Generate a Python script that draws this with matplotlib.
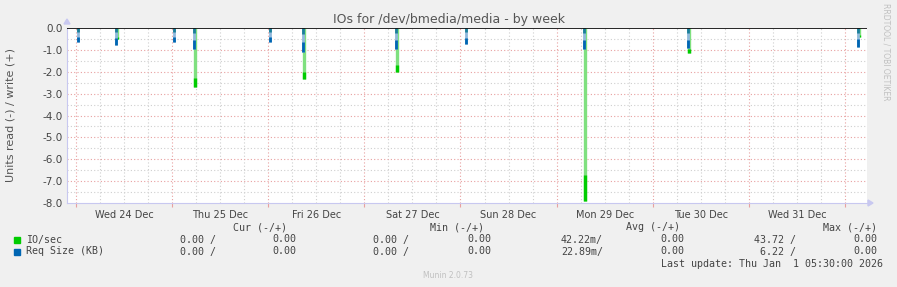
import numpy as np
import matplotlib
matplotlib.use("Agg")
from matplotlib import pyplot as plt

# spike times in days since Wed 23 Dec 00:00, values read side (negative)
spike_days = [0.031, 0.427, 1.030, 1.238, 2.029, 2.372, 3.339, 4.068, 5.295, 6.377, 8.146]
io_sec = [0.0, -0.5, 0.0, -2.7, 0.0, -2.35, -2.0, 0.0, -7.9, -1.15, -0.4]
req_size = [-0.65, -0.78, -0.65, -0.95, -0.65, -1.1, -0.95, -0.75, -0.95, -0.9, -0.85]

day_labels = ["Wed 24 Dec", "Thu 25 Dec", "Fri 26 Dec", "Sat 27 Dec",
              "Sun 28 Dec", "Mon 29 Dec", "Tue 30 Dec", "Wed 31 Dec"]
y_ticks = [0.0, -1.0, -2.0, -3.0, -4.0, -5.0, -6.0, -7.0, -8.0]

legend_names = ["IO/sec", "Req Size (KB)"]
legend_colors = ["#00cc00", "#0066b3"]
cur_vals = [("0.00 /", "0.00"), ("0.00 /", "0.00")]
min_vals = [("0.00 /", "0.00"), ("0.00 /", "0.00")]
avg_vals = [("42.22m/", "0.00"), ("22.89m/", "0.00")]
max_vals = [("43.72 /", "0.00"), ("6.22 /", "0.00")]

W, H = 897, 287
fig = plt.figure(figsize=(W / 100, H / 100), dpi=100, facecolor="#f0f0f0")


def px(x, y):
    return x / W, 1 - y / H


ax = fig.add_axes([67 / W, 1 - 203 / H, 800 / W, 175 / H], facecolor="white")
ax.set_xlim(-0.0937, 8.229)
ax.set_ylim(-8.0, 0.0)

# grid: minor grey every 6h / 0.5, major red at midnight / 1.0
for d in np.arange(0, 8.3, 0.25):
    major = abs(d - round(d)) < 1e-6
    ax.axvline(d, color="#e8a0a0" if major else "#cfcfcf", lw=0.8,
               ls=(0, (1, 2)), zorder=1)
for v in np.arange(-7.5, 0, 0.5):
    major = abs(v - round(v)) < 1e-6
    ax.axhline(v, color="#e8a0a0" if major else "#cfcfcf", lw=0.8,
               ls=(0, (1, 2)), zorder=1)

# spikes: light body with a darker tip, like munin's gradient look
io = np.array(io_sec)
rq = np.array(req_size)
t = np.array(spike_days)
ax.vlines(t, 0, io, color="#7fe07f", lw=2.4, zorder=3)
ax.vlines(t, io * 0.85, io, color=legend_colors[0], lw=2.4, zorder=3)
ax.vlines(t - 0.008, 0, rq, color="#8fb8dc", lw=2.0, zorder=4)
ax.vlines(t - 0.008, rq * 0.6, rq, color=legend_colors[1], lw=2.0, zorder=4)
ax.vlines(t - 0.008, 0, rq * 0.25, color="#1a7f99", lw=2.0, zorder=4)
ax.axhline(0, color="black", lw=1.2, zorder=5)

for s in ["top", "right"]:
    ax.spines[s].set_visible(False)
for s in ["left", "bottom"]:
    ax.spines[s].set_color("#c8c8f0")
    ax.spines[s].set_linewidth(0.8)

ax.set_yticks(y_ticks)
ax.set_yticklabels(["%.1f" % v for v in y_ticks])
ax.set_xticks(np.arange(0, 9))
ax.set_xticklabels([])
ax.set_xticks(np.arange(0.5, 8, 1), minor=True)
ax.set_xticklabels(day_labels, minor=True)
ax.tick_params(axis="x", which="major", length=3, color="#e8a0a0", direction="out")
ax.tick_params(axis="x", which="minor", length=0, labelsize=7, colors="#444444", pad=5)
ax.tick_params(axis="y", length=0, labelsize=7.5, colors="#444444", pad=3)

# axis arrows
fig.patches.append(plt.Polygon([px(64, 24), px(70, 24), px(67, 19)], closed=True,
                               transform=fig.transFigure, color="#c8c8f0"))
fig.patches.append(plt.Polygon([px(868, 200), px(868, 206), px(873, 203)], closed=True,
                               transform=fig.transFigure, color="#c8c8f0"))

fig.text(*px(449, 19), "IOs for /dev/bmedia/media - by week", ha="center", va="center",
         fontsize=9, color="#555555")
fig.text(*px(11, 115), "Units read (-) / write (+)", ha="center", va="center",
         rotation=90, fontsize=8, color="#555555")
fig.text(*px(886, 52), "RRDTOOL / TOBI OETIKER", ha="center", va="center",
         rotation=270, fontsize=5.5, color="#c0c0c0")

mono = dict(family="DejaVu Sans Mono", fontsize=7.2, color="#444444", va="center")
for label, xr in [("Cur (-/+)", 287), ("Min (-/+)", 484), ("Avg (-/+)", 680), ("Max (-/+)", 877)]:
    fig.text(*px(xr, 227), label, ha="right", **mono)

rows_y = [239.5, 251.5]
for i in range(2):
    y = rows_y[i]
    fig.patches.append(plt.Rectangle(px(14, y + 3), 6 / W, 6 / H, transform=fig.transFigure,
                                     color=legend_colors[i]))
    fig.text(*px(26, y), legend_names[i], ha="left", **mono)
    for (a, b), xa, xb in [(cur_vals[i], 216, 296), (min_vals[i], 409, 491),
                           (avg_vals[i], 603, 684), (max_vals[i], 796, 877)]:
        fig.text(*px(xa, y), a, ha="right", **mono)
        fig.text(*px(xb, y), b, ha="right", **mono)

fig.text(*px(883, 264), "Last update: Thu Jan  1 05:30:00 2026", ha="right", **mono)
fig.text(*px(448, 276), "Munin 2.0.73", ha="center", va="center", fontsize=5.5, color="#c0c0c0")

fig.savefig("out.png", dpi=100, facecolor=fig.get_facecolor())
